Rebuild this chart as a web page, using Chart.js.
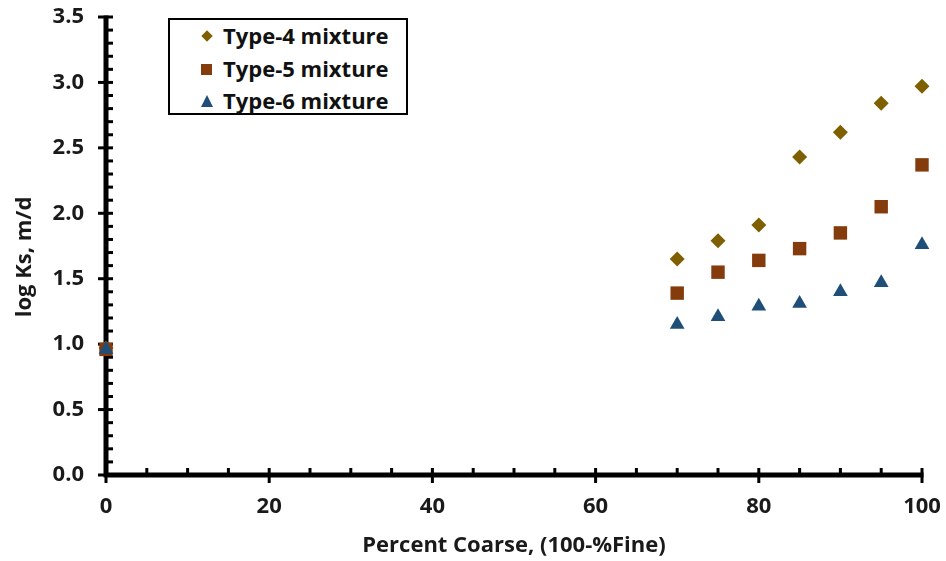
<!DOCTYPE html>
<html>
<head>
<meta charset="utf-8">
<script src="https://cdn.jsdelivr.net/npm/chart.js@4.4.1/dist/chart.umd.min.js"></script>
<style>
  html, body { margin: 0; padding: 0; background: #fff; }
  #wrap { position: relative; width: 946px; height: 561px; }
  #legend {
    position: absolute; left: 168px; top: 18px; width: 240px; height: 97px;
    border: 2px solid #000; box-sizing: border-box; background: #fff;
    font-family: "Open Sans", Lato, sans-serif; font-weight: bold; font-size: 22px; color: #111;
  }
  #legend .row { position: absolute; left: 32px; height: 26px; line-height: 26px; white-space: nowrap; }
  #legend .mk { position: absolute; left: -1px; top: 8px; width: 10px; height: 10px; }
  #legend .txt { position: absolute; left: 21px; top: 0; }
</style>
</head>
<body>
<div id="wrap">
  <canvas id="c" width="946" height="561"></canvas>
  <div id="legend"></div>
</div>
<script>
// Percent coarse fraction (x) and log saturated hydraulic conductivity (y)
const percentCoarse = [0, 70, 75, 80, 85, 90, 95, 100];
const type4LogKs = [0.97, 1.65, 1.79, 1.91, 2.43, 2.62, 2.84, 2.97];
const type5LogKs = [0.96, 1.39, 1.55, 1.64, 1.73, 1.85, 2.05, 2.37];
const type6LogKs = [0.96, 1.15, 1.21, 1.29, 1.31, 1.40, 1.47, 1.76];

const seriesNames = ['Type-4 mixture', 'Type-5 mixture', 'Type-6 mixture'];
const seriesColors = ['#7F6000', '#843C0C', '#1F4E79'];

const xTickLabels = [0, 20, 40, 60, 80, 100];
const yTickLabels = ['0.0', '0.5', '1.0', '1.5', '2.0', '2.5', '3.0', '3.5'];
const yTitle = 'log Ks, m/d';

const toPoints = ys => percentCoarse.map((x, i) => ({ x: x, y: ys[i] }));

const FONT = "'Open Sans', Lato, sans-serif";

// Axis lines with crossing major ticks and inward minor ticks, plus the y title
const axisPlugin = {
  id: 'excelAxes',
  beforeDatasetsDraw(chart) {
    const { ctx, chartArea: a, scales: { x, y } } = chart;
    ctx.save();
    ctx.strokeStyle = '#000';
    ctx.lineCap = 'butt';
    ctx.lineWidth = 3;
    for (let v = 0; v <= 100; v += 5) {
      const px = x.getPixelForValue(v);
      const major = v % 20 === 0;
      ctx.beginPath();
      ctx.moveTo(px, a.bottom + (major ? 8 : 0));
      ctx.lineTo(px, a.bottom - 7);
      ctx.stroke();
    }
    for (let k = 0; k <= 35; k++) {
      const py = y.getPixelForValue(k / 10);
      const major = k % 5 === 0;
      ctx.beginPath();
      ctx.moveTo(a.left - (major ? 8 : 0), py);
      ctx.lineTo(a.left + 7, py);
      ctx.stroke();
    }
    ctx.lineWidth = 5;
    ctx.beginPath();
    ctx.moveTo(a.left, y.getPixelForValue(3.5) - 1.5);
    ctx.lineTo(a.left, a.bottom + 2.5);
    ctx.moveTo(a.left - 2.5, a.bottom);
    ctx.lineTo(x.getPixelForValue(100) + 1.5, a.bottom);
    ctx.stroke();

    // rotated y-axis title, centred a little below the plot's mid-height
    ctx.translate(25, (a.top + a.bottom) / 2 + 11);
    ctx.rotate(-Math.PI / 2);
    ctx.fillStyle = '#1a1a1a';
    ctx.font = "bold 22px " + FONT;
    ctx.textAlign = 'center';
    ctx.textBaseline = 'middle';
    ctx.fillText(yTitle, 0, 0);
    ctx.restore();
  }
};

const chart = new Chart(document.getElementById('c'), {
  type: 'scatter',
  data: {
    datasets: [
      { label: seriesNames[0], data: toPoints(type4LogKs), pointStyle: 'rectRot', radius: 7.5,
        backgroundColor: seriesColors[0], borderColor: seriesColors[0], borderWidth: 0, order: 2 },
      { label: seriesNames[1], data: toPoints(type5LogKs), pointStyle: 'rect', radius: 9.5,
        backgroundColor: seriesColors[1], borderColor: seriesColors[1], borderWidth: 0, order: 1 },
      { label: seriesNames[2], data: toPoints(type6LogKs), pointStyle: 'triangle', radius: 8.5,
        backgroundColor: seriesColors[2], borderColor: seriesColors[2], borderWidth: 0, order: 0 }
    ]
  },
  options: {
    responsive: false,
    animation: false,
    clip: false,
    layout: { padding: { left: 0, top: 17, right: 24, bottom: 0 } },
    plugins: { legend: { display: false }, tooltip: { enabled: false } },
    elements: { point: { hoverRadius: 8 } },
    scales: {
      x: {
        type: 'linear', min: 0, max: 100,
        afterFit: s => { s.height = 86; s.paddingLeft = 0; s.paddingRight = 0; },
        afterBuildTicks: s => { s.ticks = xTickLabels.map(v => ({ value: v })); },
        grid: { display: false, drawTicks: false },
        border: { display: false },
        ticks: { padding: 19, color: '#1a1a1a', font: { family: FONT, weight: 'bold', size: 22 }, maxRotation: 0 },
        title: { display: true, text: 'Percent Coarse, (100-%Fine)', color: '#1a1a1a',
                 font: { family: FONT, weight: 'bold', size: 22 }, padding: { top: 0, bottom: 2 } }
      },
      y: {
        type: 'linear', min: 0, max: 3.5,
        afterFit: s => { s.width = 106; s.paddingTop = 0; s.paddingBottom = 0; },
        afterBuildTicks: s => { s.ticks = yTickLabels.map(t => ({ value: parseFloat(t) })); },
        grid: { display: false, drawTicks: false },
        border: { display: false },
        ticks: { padding: 22, color: '#1a1a1a', font: { family: FONT, weight: 'bold', size: 22 },
                 callback: v => yTickLabels.find(t => parseFloat(t) === v) },
        title: { display: false }
      }
    }
  },
  plugins: [axisPlugin]
});

// Legend box with the same marker shapes and colours
const legendEl = document.getElementById('legend');
const shapes = ['diamond', 'square', 'triangle'];
seriesNames.forEach((name, i) => {
  const row = document.createElement('div');
  row.className = 'row';
  row.style.top = (2 + i * 32.5) + 'px';
  const mk = document.createElement('div');
  mk.className = 'mk';
  const c = seriesColors[i];
  if (shapes[i] === 'diamond') {
    mk.style.cssText += 'width:8px;height:8px;left:1px;top:10px;transform:rotate(45deg);background:' + c;
  } else if (shapes[i] === 'square') {
    mk.style.cssText += 'width:11px;height:11px;top:9px;background:' + c;
  } else {
    mk.style.cssText += 'width:0;height:0;top:8px;border-left:6.5px solid transparent;border-right:6.5px solid transparent;border-bottom:12px solid ' + c;
  }
  const txt = document.createElement('span');
  txt.className = 'txt';
  txt.textContent = name;
  row.appendChild(mk);
  row.appendChild(txt);
  legendEl.appendChild(row);
});
</script>
</body>
</html>
